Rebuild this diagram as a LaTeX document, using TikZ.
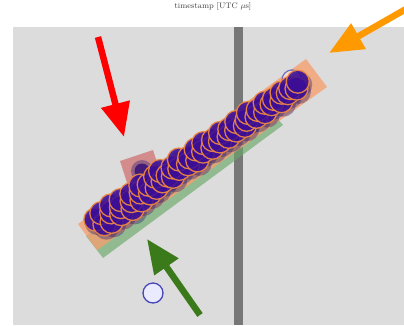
\documentclass[tikz,border=0pt]{standalone}
\usetikzlibrary{arrows.meta}
\definecolor{panel}{HTML}{DCDCDC}
\definecolor{barc}{HTML}{777777}
\definecolor{orng}{HTML}{F4A070}
\definecolor{grn}{HTML}{6AA86A}
\definecolor{rsq}{HTML}{D07878}
\definecolor{dot}{HTML}{3C0E96}
\definecolor{dotedge}{HTML}{F08A40}
\definecolor{shad}{HTML}{1A1070}
\definecolor{arrR}{HTML}{FF0000}
\definecolor{arrO}{HTML}{FF9900}
\definecolor{arrG}{HTML}{3A7A1A}
\tikzset{
  pt/.style={circle, fill=dot, fill opacity=0.88, draw=dotedge, draw opacity=0.9, line width=1.3pt, minimum size=23pt, inner sep=0pt},
  bigarrow/.style={line width=6.5pt, -{Triangle[length=34pt,width=28pt]}},
}
\begin{document}
\begin{tikzpicture}[x=1pt,y=-1pt]
\useasboundingbox (0,0) rectangle (404,325);
\node[text=black!75, font=\footnotesize, anchor=base, inner sep=0pt] (title) at (213,8) {timestamp [UTC $\mu$s]};
\fill[panel] (13,27) rectangle (404,325);
\fill[barc] (233.5,27) rectangle (242.5,325);
% green band
\fill[grn, opacity=0.65] (86,236) -- (262,100) -- (283,125) -- (103,258) -- cycle;
% orange band
\fill[orng, opacity=0.8] (78,224) -- (306,59) -- (327,87) -- (97,250) -- cycle;
% red square
\fill[rsq, opacity=0.8] (120,161) -- (153,150) -- (164,184) -- (131,195) -- cycle;
\fill[shad, opacity=0.35] (142,171) circle (11);
\fill[dot!80!black, opacity=0.8] (142,171) circle (7.5);
% hollow circles
\node[circle, minimum size=20pt, inner sep=0pt, draw=blue!40!gray!80, line width=1.3pt, fill=white, fill opacity=0.6] (h1) at (292,80) {};
\node[circle, minimum size=20pt, inner sep=0pt, draw=blue!45!gray, line width=1.3pt, fill=blue!8] (h2) at (153,293) {};
% data points
\def\pts{0/-3,0.02/6,0.035/-5,0.05/8,0.07/0,0.085/-6,0.1/7,0.115/1,0.13/-5,0.15/9,0.165/2,0.18/-4,0.2/7,0.215/0,0.23/-6,0.245/6,0.26/-2,0.28/5,0.3/-5,0.315/3,0.33/-7,0.345/1,0.36/5,0.38/-3,0.4/2,0.42/-6,0.44/3,0.46/-2,0.48/5,0.5/-5,0.52/1,0.54/-6,0.56/3,0.58/-3,0.6/2,0.62/-5,0.64/3,0.66/-3,0.68/2,0.7/-5,0.72/3,0.74/-1,0.76/-6,0.78/2,0.8/-3,0.82/3,0.84/-5,0.86/0,0.88/-3,0.9/3,0.92/-4,0.94/0,0.96/-3,0.98/1,1/-4}
\foreach \t/\o in \pts
  \fill[shad, opacity=0.35] ({99+203*\t+0.56*\o},{225-137*\t+0.83*\o}) circle (12.5);
\foreach \t/\o [count=\i] in \pts
  \node[pt] (p\i) at ({97+203*\t+0.56*\o},{222-137*\t+0.83*\o}) {};
% arrows
\coordinate (rs) at (98,37); \coordinate (rt) at (124,137);
\coordinate (os) at (406,9); \coordinate (ot) at (329,53);
\coordinate (gs) at (200,315); \coordinate (gt) at (147,239);
\draw[bigarrow, arrR] (rs) -- (rt);
\draw[bigarrow, arrO] (os) -- (ot);
\draw[bigarrow, arrG] (gs) -- (gt);
\end{tikzpicture}
\end{document}
